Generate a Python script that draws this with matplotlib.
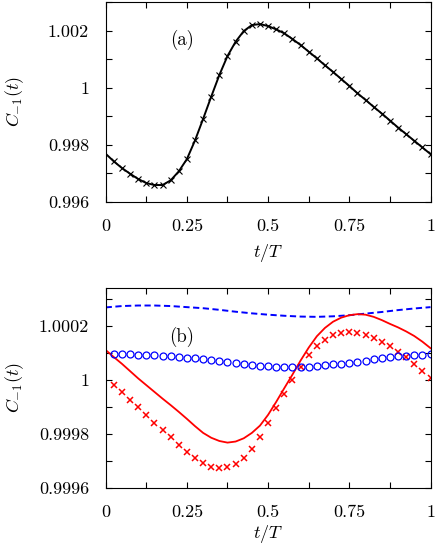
import matplotlib
matplotlib.use("Agg")
import matplotlib.pyplot as plt
from matplotlib.ticker import FixedLocator, FixedFormatter, MultipleLocator

plt.rcParams['font.family'] = 'serif'
plt.rcParams['font.serif'] = ['cmr10']
plt.rcParams['mathtext.fontset'] = 'cm'
plt.rcParams['axes.formatter.use_mathtext'] = True

# ---------------- Panel (a) data ----------------
t_a_line = [0.0, 0.025, 0.05, 0.075, 0.1, 0.125, 0.15, 0.175, 0.2, 0.225,
            0.25, 0.275, 0.3, 0.325, 0.35, 0.375, 0.4, 0.425, 0.45, 0.475,
            0.5, 0.525, 0.55, 0.575, 0.6, 0.625, 0.65, 0.675, 0.7, 0.725,
            0.75, 0.775, 0.8, 0.825, 0.85, 0.875, 0.9, 0.925, 0.95, 0.975, 1.0]
c_a_line = [0.997681, 0.997413, 0.997180, 0.996981, 0.996795, 0.996655, 0.996585,
            0.996585, 0.996748, 0.997063, 0.997494, 0.998147, 0.998904, 0.999685,
            1.000443, 1.001107, 1.001608, 1.001981, 1.002191, 1.002226, 1.002156,
            1.002040, 1.001900, 1.001702, 1.001492, 1.001259, 1.001026, 1.000781,
            1.000548, 1.000303, 1.000058, 0.999802, 0.999569, 0.999324, 0.999091,
            0.998846, 0.998601, 0.998368, 0.998135, 0.997902, 0.997669]
t_a_mark = t_a_line[1:]
c_a_mark = c_a_line[1:]

# ---------------- Panel (b) data ----------------
t_b_mark = [0.025, 0.05, 0.075, 0.1, 0.125, 0.15, 0.175, 0.2, 0.225, 0.25,
            0.275, 0.3, 0.325, 0.35, 0.375, 0.4, 0.425, 0.45, 0.475, 0.5,
            0.525, 0.55, 0.575, 0.6, 0.625, 0.65, 0.675, 0.7, 0.725, 0.75,
            0.775, 0.8, 0.825, 0.85, 0.875, 0.9, 0.925, 0.95, 0.975, 1.0]
red_cross = [0.99998125, 0.99995375, 0.99992500, 0.99989875, 0.99987000,
             0.99984125, 0.99981375, 0.99978625, 0.99976000, 0.99973375,
             0.99971000, 0.99969250, 0.99967750, 0.99967125, 0.99967500,
             0.99968750, 0.99971000, 0.99974375, 0.99978875, 0.99983875,
             0.99989375, 0.99994750, 1.00000000, 1.00004625, 1.00009000,
             1.00012375, 1.00014750, 1.00016500, 1.00017375, 1.00017750,
             1.00017375, 1.00016625, 1.00015375, 1.00014000, 1.00012375,
             1.00010375, 1.00008250, 1.00005750, 1.00003250, 1.00000750]
blue_circ = [1.00009375, 1.00009375, 1.00009375, 1.00009250, 1.00009125,
             1.00009000, 1.00008875, 1.00008625, 1.00008375, 1.00008125,
             1.00007875, 1.00007500, 1.00007250, 1.00006875, 1.00006625,
             1.00006250, 1.00005875, 1.00005500, 1.00005250, 1.00005000,
             1.00004875, 1.00004750, 1.00004625, 1.00004750, 1.00004875,
             1.00005125, 1.00005375, 1.00005750, 1.00006000, 1.00006375,
             1.00006750, 1.00007125, 1.00007500, 1.00007875, 1.00008250,
             1.00008625, 1.00008875, 1.00009125, 1.00009250, 1.00009375]

t_red_line = [0.0, 0.025, 0.05, 0.075, 0.1, 0.125, 0.15, 0.175, 0.2, 0.225,
              0.25, 0.275, 0.3, 0.325, 0.35, 0.375, 0.4, 0.425, 0.45, 0.475,
              0.5, 0.525, 0.55, 0.575, 0.6, 0.625, 0.65, 0.675, 0.7, 0.725,
              0.75, 0.775, 0.8, 0.825, 0.85, 0.875, 0.9, 0.925, 0.95, 0.975, 1.0]
red_line = [1.000110, 1.000084, 1.000059, 1.000032, 1.000005, 0.999980,
            0.999955, 0.999930, 0.999906, 0.999881, 0.999855, 0.999828,
            0.999803, 0.999785, 0.999773, 0.999767, 0.999771, 0.999783,
            0.999803, 0.999830, 0.999870, 0.999918, 0.999969, 1.000019,
            1.000071, 1.000119, 1.000161, 1.000192, 1.000215, 1.000230,
            1.000239, 1.000243, 1.000241, 1.000233, 1.000221, 1.000207,
            1.000194, 1.000179, 1.000162, 1.000141, 1.000117]

t_blue_line = [0.0, 0.05, 0.1, 0.15, 0.2, 0.25, 0.3, 0.35, 0.4, 0.45, 0.5,
               0.55, 0.6, 0.65, 0.7, 0.75, 0.8, 0.85, 0.9, 0.95, 1.0]
blue_line = [1.000268, 1.000273, 1.000275, 1.000275, 1.000273, 1.000269,
             1.000265, 1.000259, 1.000252, 1.000246, 1.000241, 1.000237,
             1.000234, 1.000233, 1.000235, 1.000239, 1.000245, 1.000251,
             1.000258, 1.000264, 1.000269]

x_ticks = [0, 0.25, 0.5, 0.75, 1]
x_ticklabels = ['0', '0.25', '0.5', '0.75', '1']
ya_ticks = [0.996, 0.998, 1.0, 1.002]
ya_ticklabels = ['0.996', '0.998', '1', '1.002']
yb_ticks = [0.9996, 0.9998, 1.0, 1.0002]
yb_ticklabels = ['0.9996', '0.9998', '1', '1.0002']

fig = plt.figure(figsize=(4.36, 5.54), dpi=100)
ax1 = fig.add_axes([0.2424, 0.6359, 0.7450, 0.3605])
ax2 = fig.add_axes([0.2424, 0.1197, 0.7450, 0.3605])

ax1.plot(t_a_line, c_a_line, color='black', lw=1.4, zorder=2)
ax1.plot(t_a_mark, c_a_mark, ls='none', marker='x', ms=4.2, mew=0.8,
         color='black', zorder=3)
ax1.set_xlim(0, 1)
ax1.set_ylim(0.996, 1.003)
ax1.text(0.235, 1.00168, '(a)', fontsize=13.5, ha='center', va='center')

ax2.plot(t_blue_line, blue_line, color='#0000ff', lw=1.4, dashes=(3.2, 1.8))
ax2.plot(t_red_line, red_line, color='#ff0000', lw=1.3)
ax2.plot(t_b_mark, red_cross, ls='none', marker='x', ms=4.2, mew=1.1,
         color='#ff0000')
ax2.plot(t_b_mark, blue_circ, ls='none', marker='o', ms=5.0, mew=0.9,
         mfc='none', mec='#0000ff')
ax2.set_xlim(0, 1)
ax2.set_ylim(0.9996, 1.00034)
ax2.text(0.235, 1.00016, '(b)', fontsize=13.5, ha='center', va='center')

for ax, yt, ytl, ymin in ((ax1, ya_ticks, ya_ticklabels, 0.001),
                          (ax2, yb_ticks, yb_ticklabels, 0.0001)):
    ax.xaxis.set_major_locator(FixedLocator(x_ticks))
    ax.xaxis.set_major_formatter(FixedFormatter(x_ticklabels))
    ax.xaxis.set_minor_locator(MultipleLocator(0.125))
    ax.yaxis.set_major_locator(FixedLocator(yt))
    ax.yaxis.set_major_formatter(FixedFormatter(ytl))
    ax.yaxis.set_minor_locator(MultipleLocator(ymin))
    ax.tick_params(which='both', direction='in', top=True, right=True,
                   length=4, width=0.8, labelsize=13)
    ax.tick_params(axis='x', which='both', pad=12)
    ax.tick_params(axis='y', which='both', pad=12)
    for s in ax.spines.values():
        s.set_linewidth(0.8)
    ax.set_ylabel(r'$C_{-1}(t)$', fontsize=13)
    ax.yaxis.set_label_coords(-0.245, 0.5)
    ax.set_xlabel(r'$t/T$', fontsize=13)

ax1.xaxis.set_label_coords(0.5, -0.2)
ax2.xaxis.set_label_coords(0.5, -0.175)

fig.savefig('out.png', dpi=100)
